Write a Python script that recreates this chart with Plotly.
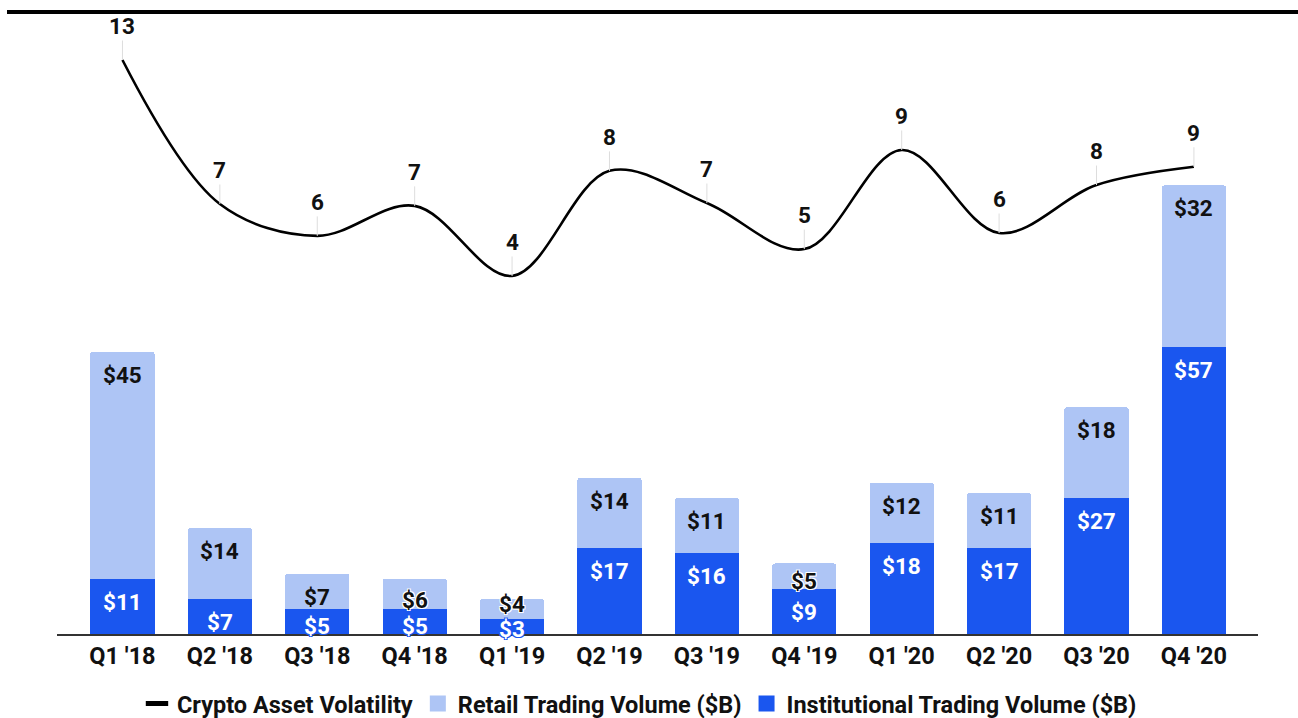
import plotly.graph_objects as go

quarters = ["Q1 '18", "Q2 '18", "Q3 '18", "Q4 '18", "Q1 '19", "Q2 '19",
            "Q3 '19", "Q4 '19", "Q1 '20", "Q2 '20", "Q3 '20", "Q4 '20"]
institutional = [11, 7, 5, 5, 3, 17, 16, 9, 18, 17, 27, 57]
retail = [45, 14, 7, 6, 4, 14, 11, 5, 12, 11, 18, 32]
volatility = [13.0, 7.0, 5.67, 6.92, 4.0, 8.38, 7.04, 5.12, 9.25, 5.79, 7.79, 8.55]
volatility_labels = ["13", "7", "6", "7", "4", "8", "7", "5", "9", "6", "8", "9"]

INST_COLOR = "#1A56EF"
RETAIL_COLOR = "#AEC5F5"
FONT = "Roboto"
FS_LABEL = 22.5
FS_AXIS = 23.5

# plot geometry
W, H = 1298, 718
ML, MR, MT, MB = 57, 40, 12, 84
plot_h = H - MT - MB
Y_MAX = 123.4
px_per_unit = plot_h / Y_MAX

fig = go.Figure()

fig.add_trace(go.Bar(x=quarters, y=institutional, name="Institutional Trading Volume ($B)",
                     marker=dict(color=INST_COLOR, line=dict(width=0)), width=0.66,
                     showlegend=False, hoverinfo="skip"))
fig.add_trace(go.Bar(x=quarters, y=retail, name="Retail Trading Volume ($B)",
                     marker=dict(color=RETAIL_COLOR, line=dict(width=0)), width=0.66,
                     showlegend=False, hoverinfo="skip"))
fig.add_trace(go.Scatter(x=quarters, y=volatility, yaxis="y2", mode="lines",
                         line=dict(color="#000000", width=2.6, shape="spline", smoothing=1.0),
                         name="Crypto Asset Volatility", showlegend=False, hoverinfo="skip"))

# legend-only entries
fig.add_trace(go.Scatter(x=[None], y=[None], mode="markers", name="Crypto Asset Volatility",
                         marker=dict(symbol="line-ew", size=16, color="#000000",
                                     line=dict(color="#000000", width=5))))
fig.add_trace(go.Scatter(x=[None], y=[None], mode="markers", name="Retail Trading Volume ($B)",
                         marker=dict(symbol="square", size=16, color=RETAIL_COLOR)))
fig.add_trace(go.Scatter(x=[None], y=[None], mode="markers", name="Institutional Trading Volume ($B)",
                         marker=dict(symbol="square", size=16, color=INST_COLOR)))

annotations = []
for i, q in enumerate(quarters):
    inst_px = institutional[i] * px_per_unit
    ret_px = retail[i] * px_per_unit
    s_inst = min(23, inst_px * 0.7)
    s_ret = min(23, ret_px * 0.7)
    # keep retail label clear of the institutional label
    gap = (ret_px - s_ret) + s_inst
    if gap < 25:
        s_ret -= (25 - gap)
    small_inst = inst_px < 30
    small_ret = ret_px < 32
    annotations.append(dict(
        x=q, y=institutional[i], xref="x", yref="y", yshift=-s_inst,
        text=f"${institutional[i]}", showarrow=False,
        font=dict(family=FONT, size=FS_LABEL, color="#FFFFFF", weight="bold",
                  shadow=(f"1px 1px 0 {INST_COLOR}, -1px -1px 0 {INST_COLOR}, 1px -1px 0 {INST_COLOR}, -1px 1px 0 {INST_COLOR}"
                          if small_inst else "none"))))
    annotations.append(dict(
        x=q, y=institutional[i] + retail[i], xref="x", yref="y", yshift=-s_ret,
        text=f"${retail[i]}", showarrow=False,
        font=dict(family=FONT, size=FS_LABEL, color="#111111", weight="bold",
                  shadow=("1px 1px 0 #fff, -1px -1px 0 #fff, 1px -1px 0 #fff, -1px 1px 0 #fff"
                          if small_ret else "none"))))
    annotations.append(dict(
        x=q, y=volatility[i], xref="x", yref="y2", text=volatility_labels[i],
        showarrow=True, arrowhead=0, arrowwidth=1, arrowcolor="#DDDDDD",
        ax=0, ay=-34, standoff=0, startstandoff=0,
        font=dict(family=FONT, size=FS_LABEL, color="#111111", weight="bold")))

fig.update_layout(
    width=W, height=H,
    margin=dict(l=ML, r=MR, t=MT, b=MB, autoexpand=False),
    paper_bgcolor="#FFFFFF", plot_bgcolor="#FFFFFF",
    barmode="stack", barcornerradius=3,
    font=dict(family=FONT, size=FS_AXIS, color="#111111", weight="bold"),
    xaxis=dict(range=[-0.672, 11.658], showgrid=False, zeroline=False, automargin=False,
               showline=True, linecolor="#333333", linewidth=2,
               ticks="", tickfont=dict(family=FONT, size=FS_AXIS, color="#111111", weight="bold")),
    yaxis=dict(range=[0, Y_MAX], visible=False, showgrid=False, zeroline=False),
    yaxis2=dict(range=[-10.92, 15], overlaying="y", visible=False, showgrid=False, zeroline=False),
    legend=dict(orientation="h", x=0.485, xanchor="center", y=-0.112, yanchor="middle",
                font=dict(family=FONT, size=FS_AXIS, color="#111111", weight="bold"),
                traceorder="normal", itemclick=False, itemdoubleclick=False),
    annotations=annotations,
    shapes=[dict(type="line", xref="paper", yref="paper",
                 x0=(7 - ML) / (W - ML - MR), x1=(W - ML) / (W - ML - MR),
                 y0=1.0, y1=1.0, line=dict(color="#000000", width=4))],
)

fig.write_html("out.html")
